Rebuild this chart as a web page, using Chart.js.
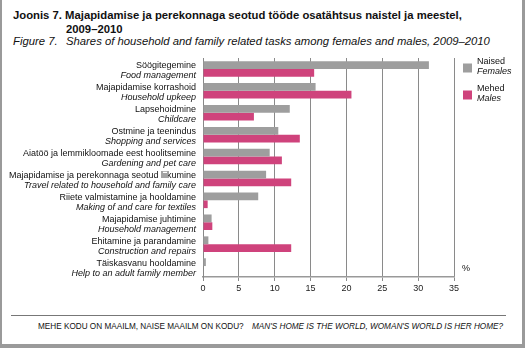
<!DOCTYPE html>
<html>
<head>
<meta charset="utf-8">
<script src="https://cdn.jsdelivr.net/npm/chart.js@4.4.1/dist/chart.umd.min.js"></script>
<style>
  body { margin: 0; background: #fff; font-family: "Liberation Sans", Arial, sans-serif; }
  #wrap { position: relative; width: 525px; height: 348px; overflow: hidden; background: #fff; }
  .t { position: absolute; white-space: nowrap; color: #111; }
  #frameL { position: absolute; left: 0; top: 0; width: 2px; height: 348px; background: #9a9a9a; }
  #frameR { position: absolute; left: 522px; top: 0; width: 3px; height: 348px; background: #9a9a9a; }
  #frameB { position: absolute; left: 0; top: 344px; width: 525px; height: 4px; background: #9a9a9a; }
  #rule { position: absolute; left: 11px; top: 315px; width: 495px; height: 1px; background: #777; }
  #box { position: absolute; left: 0; top: 50px; width: 525px; height: 250px; }
</style>
</head>
<body>
<div id="wrap">
  <div class="t" style="left:13px;top:9px;font-size:11.3px;font-weight:bold;">Joonis 7.&nbsp;Majapidamise ja perekonnaga seotud tööde osatähtsus naistel ja meestel,</div>
  <div class="t" style="left:66px;top:23px;font-size:11.3px;font-weight:bold;">2009–2010</div>
  <div class="t" style="left:13px;top:35px;font-size:11.3px;font-style:italic;">Figure 7.</div>
  <div class="t" style="left:66px;top:35px;font-size:11.3px;font-style:italic;">Shares of household and family related tasks among females and males, 2009–2010</div>
  <div id="box"><canvas id="grafico"></canvas></div>
  <div id="rule"></div>
  <div class="t" style="left:38px;top:322px;font-size:8.2px;">MEHE KODU ON MAAILM, NAISE MAAILM ON KODU?</div>
  <div class="t" style="left:252px;top:322px;font-size:8.2px;font-style:italic;">MAN'S HOME IS THE WORLD, WOMAN'S WORLD IS HER HOME?</div>
  <div id="frameL"></div>
  <div id="frameR"></div>
  <div id="frameB"></div>
</div>
<script>
// tegevused (eesti / inglise)
var categoriesEt = [
    'Söögitegemine',
    'Majapidamise korrashoid',
    'Lapsehoidmine',
    'Ostmine ja teenindus',
    'Aiatöö ja lemmikloomade eest hoolitsemine',
    'Majapidamise ja perekonnaga seotud liikumine',
    'Riiete valmistamine ja hooldamine',
    'Majapidamise juhtimine',
    'Ehitamine ja parandamine',
    'Täiskasvanu hooldamine'
];
var categoriesEn = [
    'Food management',
    'Household upkeep',
    'Childcare',
    'Shopping and services',
    'Gardening and pet care',
    'Travel related to household and family care',
    'Making of and care for textiles',
    'Household management',
    'Construction and repairs',
    'Help to an adult family member'
];
var naised = [31.5, 15.7, 12.1, 10.5, 9.3, 8.8, 7.7, 1.2, 0.75, 0.4];
var mehed = [15.5, 20.7, 7.1, 13.5, 11.0, 12.3, 0.65, 1.3, 12.3, 0];
var seriesEt = ['Naised', 'Mehed'];
var seriesEn = ['Females', 'Males'];
var xTicks = [0, 5, 10, 15, 20, 25, 30, 35];

const COLORS = ['#9e9e9e', '#cf437c'];
const FONT = '"Liberation Sans", Arial, sans-serif';

var sildid = {
    id: 'sildid',
    afterDraw: function (chart) {
        var ctx = chart.ctx;
        var yScale = chart.scales.y;
        var area = chart.chartArea;
        ctx.save();
        ctx.fillStyle = '#111';
        ctx.textAlign = 'right';
        ctx.textBaseline = 'middle';
        for (var i = 0; i < categoriesEt.length; i++) {
            var y = yScale.getPixelForValue(i);
            ctx.font = '9px ' + FONT;
            ctx.fillText(categoriesEt[i], area.left - 7, y - 3);
            ctx.font = 'italic 9px ' + FONT;
            ctx.fillText(categoriesEn[i], area.left - 7, y + 7);
        }
        // legend
        ctx.textAlign = 'left';
        for (var j = 0; j < seriesEt.length; j++) {
            var top = area.top + 5 + j * 27;
            ctx.fillStyle = COLORS[j];
            ctx.fillRect(area.right + 9, top + 0.5, 9, 9);
            ctx.fillStyle = '#111';
            ctx.font = '9px ' + FONT;
            ctx.fillText(seriesEt[j], area.right + 23, top - 1.5);
            ctx.font = 'italic 9px ' + FONT;
            ctx.fillText(seriesEn[j], area.right + 23, top + 8.5);
        }
        ctx.font = '9px ' + FONT;
        ctx.fillText('%', area.right + 8, area.bottom - 8);
        ctx.restore();
    }
};

var graphTarget = document.getElementById('grafico');
var barGraph = new Chart(graphTarget, {
    type: 'bar',
    data: {
        labels: categoriesEt,
        datasets: [
            { label: seriesEt[0], data: naised, backgroundColor: COLORS[0] },
            { label: seriesEt[1], data: mehed, backgroundColor: COLORS[1] }
        ]
    },
    options: {
        indexAxis: 'y',
        responsive: true,
        maintainAspectRatio: false,
        animation: false,
        categoryPercentage: 0.71,
        barPercentage: 1,
        layout: { padding: { left: 203, right: 71, top: 8, bottom: 3 } },
        plugins: { legend: { display: false }, tooltip: { enabled: false } },
        scales: {
            x: {
                min: 0,
                max: 35,
                afterFit: function (scale) { scale.height = 20; },
                afterBuildTicks: function (scale) {
                    scale.ticks = xTicks.map(function (v) { return { value: v }; });
                },
                ticks: { color: '#222', font: { family: FONT, size: 9 }, padding: 2, maxRotation: 0 },
                grid: { color: '#8a8a8a', lineWidth: 1, tickLength: 4, drawTicks: true },
                border: { color: '#999', width: 1.5 }
            },
            y: {
                afterFit: function (scale) { scale.width = 0; },
                ticks: { display: false },
                grid: { display: false, drawTicks: false },
                border: { color: '#888', width: 1 }
            }
        }
    },
    plugins: [sildid]
});
</script>
</body>
</html>
